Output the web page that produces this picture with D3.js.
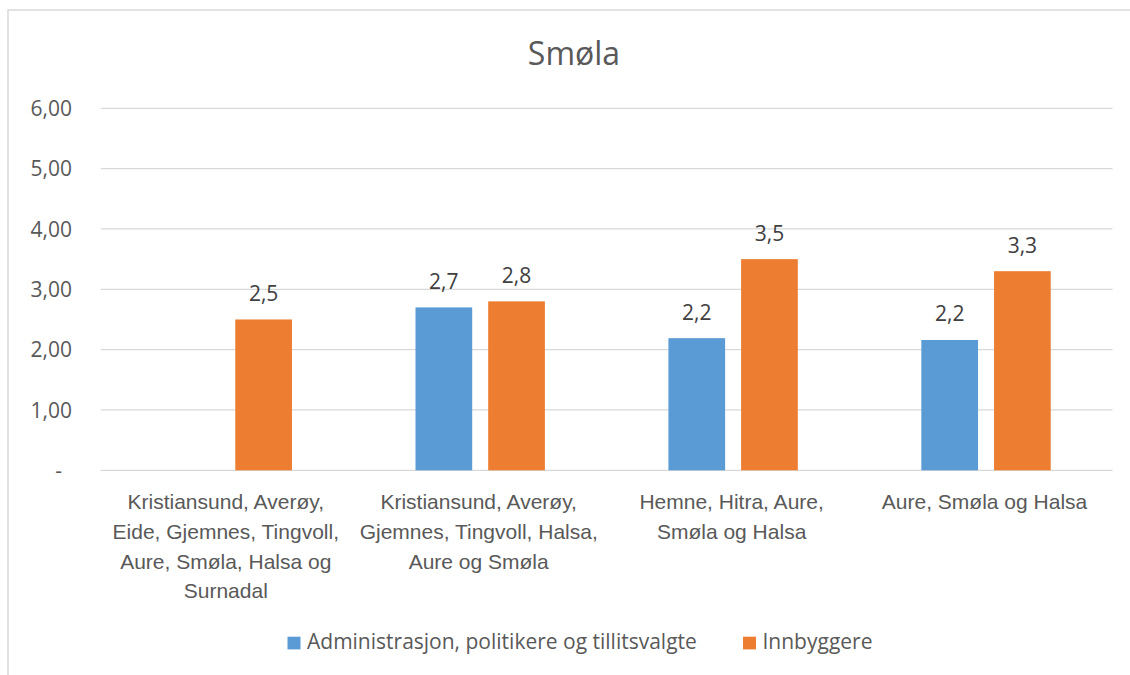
<!DOCTYPE html>
<html>
<head>
<meta charset="utf-8">
<script src="https://cdn.jsdelivr.net/npm/d3@7"></script>
<style>
  html, body { margin: 0; padding: 0; background: #fff; }
  svg { display: block; font-family: "Open Sans", Lato, sans-serif; }
</style>
</head>
<body>
<svg id="chart" width="1130" height="675"></svg>
<script>
const title = "Smøla";
const categories = [
  "Kristiansund, Averøy, Eide, Gjemnes, Tingvoll, Aure, Smøla, Halsa og Surnadal",
  "Kristiansund, Averøy, Gjemnes, Tingvoll, Halsa, Aure og Smøla",
  "Hemne, Hitra, Aure, Smøla og Halsa",
  "Aure, Smøla og Halsa"
];
const categoryLines = [
  ["Kristiansund, Averøy,", "Eide, Gjemnes, Tingvoll,", "Aure, Smøla, Halsa og", "Surnadal"],
  ["Kristiansund, Averøy,", "Gjemnes, Tingvoll, Halsa,", "Aure og Smøla"],
  ["Hemne, Hitra, Aure,", "Smøla og Halsa"],
  ["Aure, Smøla og Halsa"]
];
const seriesNames = ["Administrasjon, politikere og tillitsvalgte", "Innbyggere"];
const adminValues = [null, 2.70, 2.19, 2.16];
const innbyggerValues = [2.50, 2.80, 3.50, 3.30];
const yTicks = [0, 1, 2, 3, 4, 5, 6];
const yTickLabels = ["-", "1,00", "2,00", "3,00", "4,00", "5,00", "6,00"];
const colors = ["#5B9BD5", "#ED7D31"];

const seriesValues = [adminValues, innbyggerValues];
const svg = d3.select("#chart");

// chart border
svg.append("rect")
  .attr("x", 8).attr("y", 10)
  .attr("width", 1140).attr("height", 700)
  .attr("fill", "#fff").attr("stroke", "#d9d9d9").attr("stroke-width", 1.5);

const plotLeft = 100.8, plotRight = 1112.5;
const y = d3.scaleLinear().domain([0, 6]).range([470.3, 108.3]);
const x0 = d3.scaleBand().domain(categories).range([plotLeft, plotRight]).padding(0);
const bw = x0.bandwidth();
const x1 = d3.scaleBand().domain(seriesNames)
  .range([bw * 0.2442, bw * (1 - 0.2442)]).paddingInner(0.22).paddingOuter(0);

// gridlines
const grid = svg.append("g");
grid.selectAll("line").data(yTicks).enter().append("line")
  .attr("x1", plotLeft).attr("x2", plotRight)
  .attr("y1", d => y(d)).attr("y2", d => y(d))
  .attr("stroke", "#d9d9d9").attr("stroke-width", 1.3);

// y labels
const yAxis = d3.axisLeft(y).tickValues(yTicks)
  .tickFormat((d, i) => yTickLabels[i]).tickSize(0).tickPadding(0);
const yg = svg.append("g").attr("transform", "translate(72,0)").call(yAxis);
yg.select(".domain").remove();
yg.selectAll("text")
  .attr("fill", "#595959").style("font-size", "21px").style("font-family", "Open Sans")
  .attr("dy", "0.35em")
  .attr("dx", (d) => d === 0 ? -10 : 0);

// title
svg.append("text")
  .attr("x", 574).attr("y", 65)
  .attr("text-anchor", "middle")
  .attr("fill", "#595959").style("font-size", "32px")
  .text(title);

// bars
const fmt = v => d3.format(".1f")(v).replace(".", ",");
categories.forEach((cat, ci) => {
  seriesNames.forEach((s, si) => {
    const v = seriesValues[si][ci];
    if (v === null || v === undefined) return;
    const bx = x0(cat) + x1(s);
    svg.append("rect")
      .attr("x", bx).attr("y", y(v))
      .attr("width", x1.bandwidth()).attr("height", y(0) - y(v))
      .attr("fill", colors[si]);
    svg.append("text")
      .attr("x", bx + x1.bandwidth() / 2).attr("y", y(v) - 18.5)
      .attr("text-anchor", "middle")
      .attr("fill", "#404040").style("font-size", "21px")
      .text(fmt(v));
  });
});

// x labels
const xAxis = d3.axisBottom(x0).tickSize(0).tickFormat("");
const xg = svg.append("g").attr("transform", `translate(0,${y(0)})`).call(xAxis);
xg.select(".domain").remove();
xg.selectAll(".tick").each(function(d, i) {
  const t = d3.select(this).append("text")
    .attr("text-anchor", "middle")
    .attr("fill", "#595959").style("font-size", "21px")
    .attr("x", -1.5);
  categoryLines[i].forEach((line, li) => {
    t.append("tspan").attr("x", -1.5).attr("y", 39 + li * 29.7).text(line);
  });
});

// legend
const legendItems = [
  { name: seriesNames[0], color: colors[0], x: 287.5 },
  { name: seriesNames[1], color: colors[1], x: 743 }
];
const lg = svg.append("g");
legendItems.forEach(it => {
  lg.append("rect").attr("x", it.x).attr("y", 636.7)
    .attr("width", 13).attr("height", 12.7).attr("fill", it.color);
  lg.append("text").attr("x", it.x + 19.5).attr("y", 649.3)
    .attr("fill", "#595959").style("font-size", "21px")
    .text(it.name);
});
</script>
</body>
</html>
